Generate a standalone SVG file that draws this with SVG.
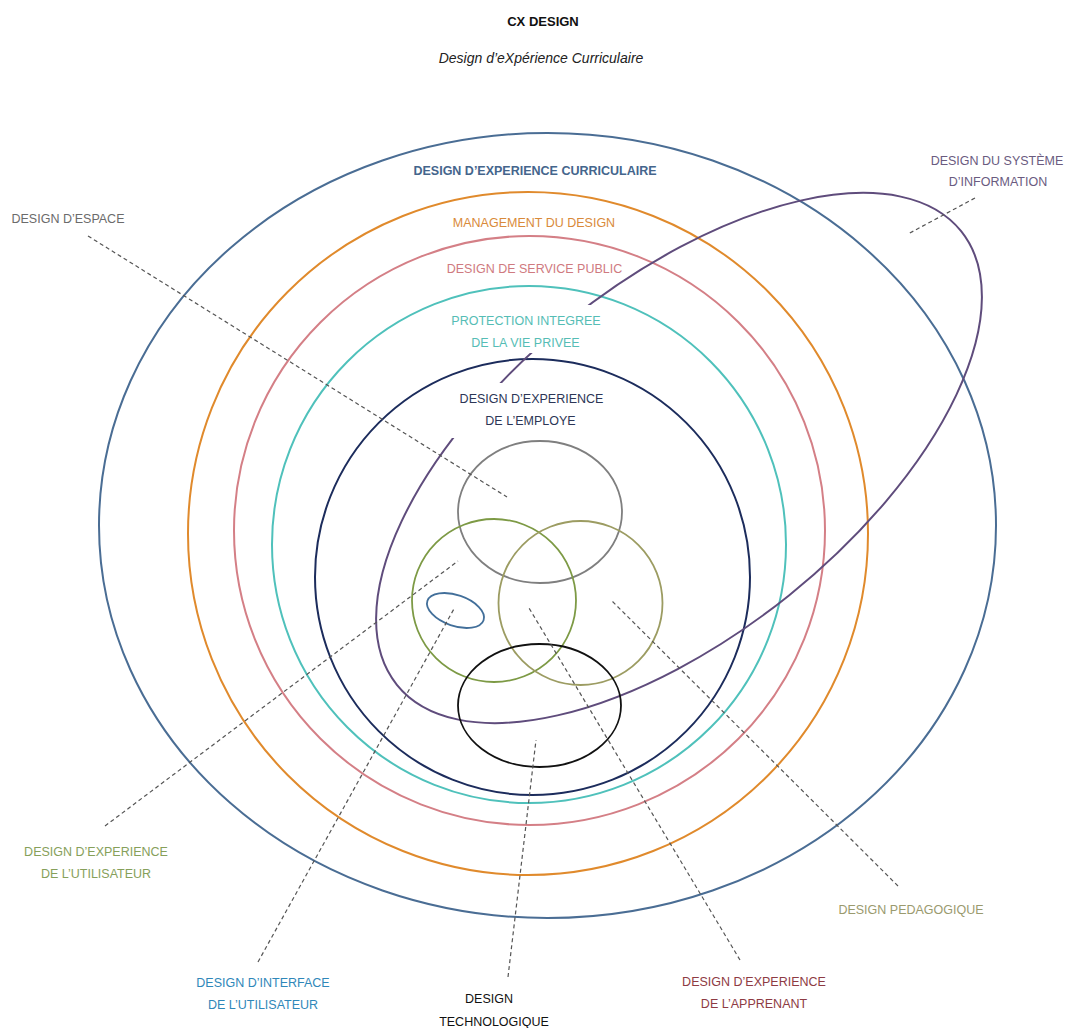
<svg xmlns="http://www.w3.org/2000/svg" width="1068" height="1028" viewBox="0 0 1068 1028">
<style>
text{font-family:"Liberation Sans",Arial,sans-serif;font-size:12.5px;text-anchor:middle}
.ring{fill:none;stroke-width:2}
.sm{fill:none;stroke-width:1.8}
.dash{fill:none;stroke:#555;stroke-width:1.2;stroke-dasharray:4 3}
</style>
<defs>
<mask id="pm" maskUnits="userSpaceOnUse" x="0" y="0" width="1068" height="1028">
<rect x="0" y="0" width="1068" height="1028" fill="#fff"/>
<rect x="425" y="383" width="200" height="55" fill="#000"/>
<rect x="480" y="305" width="140" height="48" fill="#000"/>
</mask>
</defs>
<rect width="1068" height="1028" fill="#fff"/>
<g id="title">
<text x="543" y="26" style="font-weight:bold;font-size:13px" fill="#111">CX DESIGN</text>
<text x="541" y="63" style="font-style:italic;font-size:14px" fill="#222">Design d’eXpérience Curriculaire</text>
</g>
<g id="curriculaire">
<ellipse class="ring" cx="547.5" cy="525.5" rx="448.5" ry="392.5" stroke="#4a6d94"/>
<text x="535" y="175" style="font-weight:bold" fill="#44658c">DESIGN D’EXPERIENCE CURRICULAIRE</text>
</g>
<g id="management">
<ellipse class="ring" cx="528" cy="533.5" rx="340" ry="341.5" stroke="#e08a2c"/>
<text x="534" y="227" fill="#d98a3a">MANAGEMENT DU DESIGN</text>
</g>
<g id="service-public">
<ellipse class="ring" cx="529.5" cy="530.5" rx="295.5" ry="294.5" stroke="#d47f86"/>
<text x="534.5" y="273" fill="#cf7a80">DESIGN DE SERVICE PUBLIC</text>
</g>
<g id="vie-privee">
<ellipse class="ring" cx="529" cy="544.5" rx="257" ry="258.5" stroke="#4fc1bb"/>
<text x="526" y="325" fill="#55bdb5">PROTECTION INTEGREE</text>
<text x="525.5" y="347" fill="#55bdb5">DE LA VIE PRIVEE</text>
</g>
<g id="employe">
<ellipse class="ring" cx="532.5" cy="577" rx="217.5" ry="218" stroke="#1c2c5c"/>
<text x="531.5" y="403" fill="#2c3656">DESIGN D’EXPERIENCE</text>
<text x="530.5" y="425" fill="#2c3656">DE L’EMPLOYE</text>
</g>
<g id="systeme-information">
<g mask="url(#pm)">
<ellipse class="ring" cx="679" cy="458" rx="362" ry="176" transform="rotate(-38.8 679 458)" stroke="#5f4c7c"/>
</g>
<text x="997" y="165" fill="#6a5b7f">DESIGN DU SYSTÈME</text>
<text x="998" y="186" fill="#6a5b7f">D’INFORMATION</text>
</g>
<g id="espace">
<ellipse class="sm" cx="540" cy="512" rx="82" ry="71" stroke="#7f7f7f"/>
<text x="68" y="223" fill="#6b6b6b">DESIGN D’ESPACE</text>
</g>
<g id="experience-utilisateur">
<ellipse class="sm" cx="494" cy="600.5" rx="82" ry="81.5" stroke="#7d9a45"/>
<text x="96" y="856" fill="#86a05a">DESIGN D’EXPERIENCE</text>
<text x="96" y="878" fill="#86a05a">DE L’UTILISATEUR</text>
</g>
<g id="pedagogique">
<ellipse class="sm" cx="580.5" cy="603" rx="82" ry="82" stroke="#9c9c62"/>
<text x="911" y="914" fill="#9a9a6e">DESIGN PEDAGOGIQUE</text>
</g>
<g id="technologique">
<ellipse class="sm" cx="539.5" cy="705.5" rx="81.5" ry="61.5" stroke="#111"/>
<text x="489" y="1003" fill="#111">DESIGN</text>
<text x="494" y="1026" fill="#111">TECHNOLOGIQUE</text>
</g>
<g id="interface-utilisateur">
<ellipse class="sm" cx="455.5" cy="610.5" rx="29.7" ry="15.4" transform="rotate(19 455.5 610.5)" stroke="#426f9a"/>
<text x="263" y="987" fill="#2f87b9">DESIGN D’INTERFACE</text>
<text x="263" y="1009" fill="#2f87b9">DE L’UTILISATEUR</text>
</g>
<g id="apprenant">
<text x="754" y="986" fill="#8e3b43">DESIGN D’EXPERIENCE</text>
<text x="754" y="1008" fill="#8e3b43">DE L’APPRENANT</text>
</g>
<g id="connectors">
<line class="dash" x1="88" y1="236" x2="507" y2="497"/>
<line class="dash" x1="975" y1="198" x2="908" y2="234"/>
<line class="dash" x1="105" y1="826" x2="458" y2="561"/>
<line class="dash" x1="258" y1="962" x2="455" y2="607"/>
<line class="dash" x1="508" y1="977" x2="536" y2="740"/>
<line class="dash" x1="740" y1="960" x2="529" y2="608"/>
<line class="dash" x1="898" y1="886" x2="612" y2="601"/>
</g>
</svg>
